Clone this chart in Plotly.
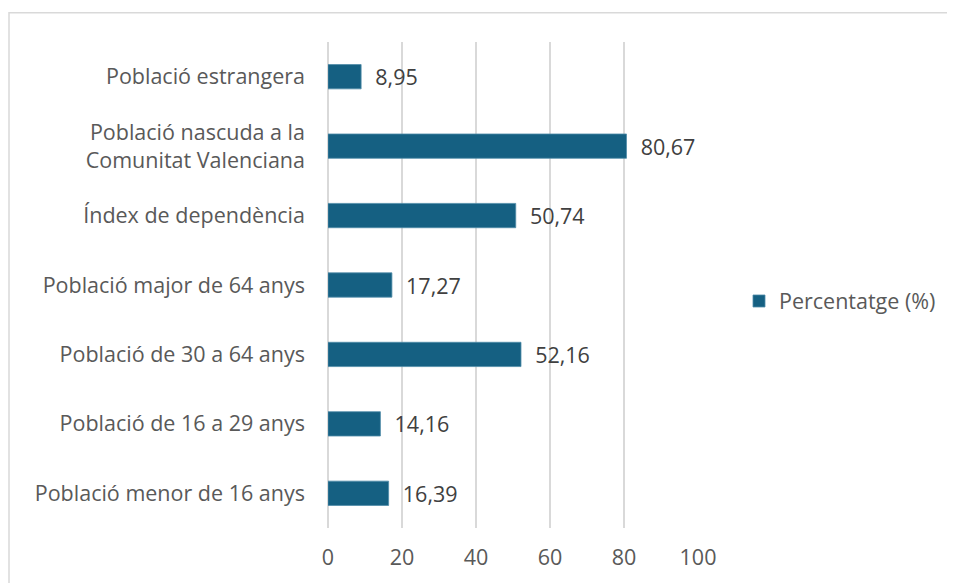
import plotly.graph_objects as go

categories = [
    "Població menor de 16 anys",
    "Població de 16 a 29 anys",
    "Població de 30 a 64 anys",
    "Població major de 64 anys",
    "Índex de dependència",
    "Població nascuda a la<br>Comunitat Valenciana",
    "Població estrangera",
]
values = [16.39, 14.16, 52.16, 17.27, 50.74, 80.67, 8.95]
series_name = "Percentatge (%)"
x_ticks = [0, 20, 40, 60, 80, 100]

OFF = 8  # page body margin
W, H = 955 - OFF, 583 - OFF
L, R, T, B = 328 - OFF, 698 - OFF, 42.3 - OFF, 527.7 - OFF

def px(xp):
    return (xp - OFF - L) / (R - L)

def py(yp):
    return (B - (yp - OFF)) / (B - T)

font_family = "Open Sans, Noto Sans, sans-serif"
FS = 21.5

fig = go.Figure()
fig.add_trace(go.Bar(
    y=categories,
    x=values,
    orientation="h",
    name=series_name,
    marker=dict(color="#156082", line=dict(color="#4f8ca8", width=0.8)),
    texttemplate="\u00a0\u00a0%{x:.2f}",
    textposition="outside",
    constraintext="none",
    textfont=dict(size=FS, color="#404040", family=font_family),
    cliponaxis=False,
    showlegend=True,
))

fig.update_layout(
    width=W, height=H,
    separators=",.",
    margin=dict(l=L, r=W - R, t=T, b=H - B, pad=0, autoexpand=False),
    paper_bgcolor="white",
    plot_bgcolor="white",
    bargap=0.65,
    font=dict(family=font_family, color="#595959", size=FS),
    xaxis=dict(
        range=[0, 100],
        tickvals=x_ticks,
        showgrid=True,
        gridcolor="#d9d9d9",
        gridwidth=1.5,
        zeroline=True,
        zerolinecolor="#d9d9d9",
        zerolinewidth=1.5,
        showline=False,
        ticks="",
        ticklabelstandoff=14,
        tickfont=dict(size=FS, color="#595959"),
        automargin=False,
    ),
    yaxis=dict(
        showgrid=False,
        zeroline=False,
        showline=False,
        ticks="",
        ticklabelstandoff=22,
        tickfont=dict(size=FS, color="#595959"),
        categoryorder="array",
        categoryarray=categories,
        automargin=False,
    ),
    legend=dict(
        x=px(739), y=py(301),
        xanchor="left", yanchor="middle",
        font=dict(size=FS, color="#595959"),
        bgcolor="rgba(0,0,0,0)",
    ),
    shapes=[dict(
        type="rect", xref="paper", yref="paper",
        x0=px(9), x1=px(980), y0=py(620), y1=py(13),
        line=dict(color="#d9d9d9", width=1.5),
        fillcolor="rgba(0,0,0,0)",
        layer="below",
    )],
)

fig.write_html("out.html")
